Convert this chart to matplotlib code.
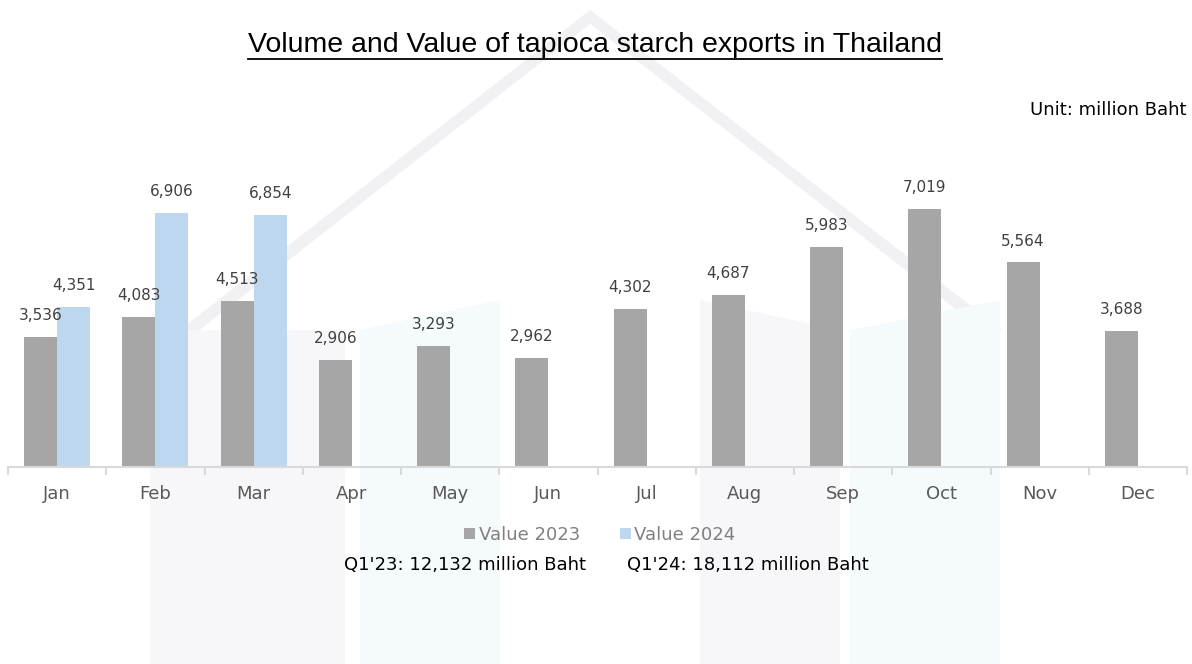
import matplotlib.pyplot as plt
import numpy as np
from matplotlib.lines import Line2D
from matplotlib.patches import Polygon

months = ['Jan', 'Feb', 'Mar', 'Apr', 'May', 'Jun', 'Jul', 'Aug', 'Sep', 'Oct', 'Nov', 'Dec']
value_2023 = [3536, 4083, 4513, 2906, 3293, 2962, 4302, 4687, 5983, 7019, 5564, 3688]
value_2024 = [4351, 6906, 6854]
q1_notes = ["Q1'23: 12,132 million Baht", "Q1'24: 18,112 million Baht"]

GRAY = '#a6a6a6'
BLUE = '#bdd7ee'
TXT = '#404040'

W, H = 1192, 664
fig = plt.figure(figsize=(W / 100, H / 100), dpi=100)

# faint watermark in the background
wm = [
    ([(590, 10), (180, 330), (192, 336), (590, 24), (990, 336), (1002, 330)], '#f1f1f3'),
    ([(150, 330), (345, 330), (345, 664), (150, 664)], '#f7f6f9'),
    ([(360, 330), (500, 300), (500, 664), (360, 664)], '#f5fafc'),
    ([(700, 300), (840, 330), (840, 664), (700, 664)], '#f7f6f9'),
    ([(850, 330), (1000, 300), (1000, 664), (850, 664)], '#f5fafc'),
]
for pts, c in wm:
    fig.patches.append(Polygon([(x / W, 1 - y / H) for x, y in pts], closed=True,
                               transform=fig.transFigure, facecolor=c, edgecolor='none',
                               zorder=-1))

ax = fig.add_axes([8 / W, (H - 467) / H, (1187 - 8) / W, (467 - 150) / H])
ax.set_zorder(2)
ax.patch.set_alpha(0)

x = np.arange(len(months))
bw = 0.336
b1 = ax.bar(x - bw / 2, value_2023, bw, color=GRAY, label='Value 2023')
b2 = ax.bar(x[:len(value_2024)] + bw / 2, value_2024, bw, color=BLUE, label='Value 2024')

for bars, vals in ((b1, value_2023), (b2, value_2024)):
    for r, v in zip(bars, vals):
        ax.text(r.get_x() + r.get_width() / 2, v + 380, f'{v:,}', ha='center', va='bottom',
                fontsize=11, color=TXT, family='DejaVu Sans')

ax.set_xlim(-0.5, len(months) - 0.5)
ax.set_ylim(0, 8624)
ax.set_yticks([])
ax.set_xticks(x)
ax.set_xticklabels(months, fontsize=13, color='#595959')
ax.set_xticks(np.arange(-0.5, len(months)), minor=True)
ax.tick_params(axis='x', which='major', length=0, pad=13)
ax.tick_params(axis='x', which='minor', length=6, color='#d9d9d9', width=1.5)
for s in ('top', 'right', 'left'):
    ax.spines[s].set_visible(False)
ax.spines['bottom'].set_color('#d9d9d9')
ax.spines['bottom'].set_linewidth(1.5)

leg = fig.legend(handles=[b1, b2], loc='center', bbox_to_anchor=(600 / W, 1 - 535 / H),
                 ncol=2, frameon=False, fontsize=13, handlelength=0.6, handleheight=0.6,
                 handletextpad=0.2, columnspacing=2.2)
for t in leg.get_texts():
    t.set_color('#808080')

fig.text(465 / W, 1 - 565 / H, q1_notes[0], ha='center', va='center', fontsize=13, color='black')
fig.text(748 / W, 1 - 565 / H, q1_notes[1], ha='center', va='center', fontsize=13, color='black')

fig.text(1187 / W, 1 - 110 / H, 'Unit: million Baht', ha='right', va='center', fontsize=13,
         color='black')

title = fig.text(595 / W, 1 - 45 / H, 'Volume and Value of tapioca starch exports in Thailand',
                 ha='center', va='center', fontsize=20.5, color='black', family='Liberation Sans')
fig.canvas.draw()
bb = title.get_window_extent().transformed(fig.transFigure.inverted())
fig.add_artist(Line2D([bb.x0, bb.x1], [bb.y0 - 0.002, bb.y0 - 0.002], color='black', lw=1.3,
                      transform=fig.transFigure))

fig.savefig('out.png', dpi=100, facecolor='white')
